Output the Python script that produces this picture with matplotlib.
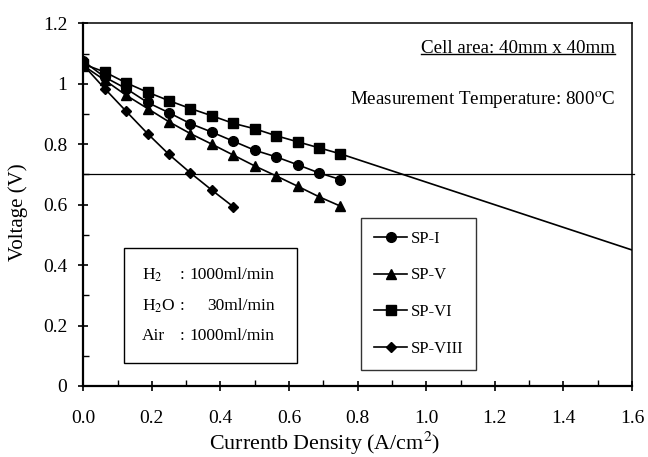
import matplotlib
matplotlib.use("Agg")
import matplotlib.pyplot as plt
from matplotlib.ticker import MultipleLocator, FuncFormatter
from matplotlib.patches import Rectangle
from matplotlib.lines import Line2D

plt.rcParams['font.family'] = ['Liberation Serif', 'DejaVu Serif']
plt.rcParams['mathtext.fontset'] = 'stix'

# ---------------- DATOS ----------------
corriente = [0.0, 0.0625, 0.125, 0.1875, 0.25, 0.3125, 0.375, 0.4375,
             0.5, 0.5625, 0.625, 0.6875, 0.75]
sp_i = [1.075, 1.022, 0.984, 0.938, 0.904, 0.868, 0.840, 0.810,
        0.780, 0.758, 0.732, 0.705, 0.683]
sp_v = [1.060, 1.012, 0.962, 0.918, 0.874, 0.835, 0.800, 0.764,
        0.728, 0.695, 0.661, 0.626, 0.595]
sp_vi = [1.065, 1.039, 1.003, 0.972, 0.944, 0.918, 0.894, 0.869,
         0.851, 0.828, 0.808, 0.788, 0.768]
sp_viii = [1.062, 0.984, 0.909, 0.835, 0.766, 0.705, 0.648, 0.593]
corriente_viii = corriente[:len(sp_viii)]

tendencia_x = [0.75, 1.6]
tendencia_y = [0.768, 0.45]
voltaje_ref = 0.7

series = [
    ("SP-I", corriente, sp_i, 'o', 7),
    ("SP-V", corriente, sp_v, '^', 7.5),
    ("SP-VI", corriente, sp_vi, 's', 6.5),
    ("SP-VIII", corriente_viii, sp_viii, 'D', 5.5),
]

# ---------------- FIGURA ----------------
fig = plt.figure(figsize=(6.48, 4.57), dpi=100)
ax = fig.add_axes([0.1285, 0.1554, 0.8468, 0.7936])

handles = []
for nombre, x, y, m, ms in series:
    h, = ax.plot(x, y, color='black', linewidth=1.2, marker=m, markersize=ms,
                 label=nombre, zorder=3)
    handles.append(h)

ax.plot(tendencia_x, tendencia_y, color='black', linewidth=1.2, zorder=2)
ax.axhline(voltaje_ref, xmin=0, xmax=1.004, color='black', linewidth=0.9,
           clip_on=False, zorder=2)

ax.set_xlim(0, 1.6)
ax.set_ylim(0, 1.2)

# ---------------- EJES / TICKS ----------------
ax.xaxis.set_major_locator(MultipleLocator(0.2))
ax.xaxis.set_minor_locator(MultipleLocator(0.1))
ax.yaxis.set_major_locator(MultipleLocator(0.2))
ax.yaxis.set_minor_locator(MultipleLocator(0.1))
ax.xaxis.set_major_formatter(FuncFormatter(lambda v, p: f"{v:.1f}"))
ax.yaxis.set_major_formatter(FuncFormatter(lambda v, p: f"{round(v, 1):g}"))

ax.tick_params(which='major', direction='inout', length=7, width=1.2,
               labelsize=14)
ax.tick_params(axis='x', which='major', pad=14)
ax.tick_params(axis='y', which='major', pad=8)
ax.tick_params(which='minor', direction='in', length=4, width=1.0)

for s in ['left', 'bottom']:
    ax.spines[s].set_linewidth(1.6)
for s in ['top', 'right']:
    ax.spines[s].set_linewidth(1.1)

ax.set_xlabel(r"Currentb Density (A/cm$^2$)", fontsize=15.8)
ax.xaxis.label.set_va('baseline')
ax.xaxis.set_label_coords(0.44, -0.177)
ax.set_ylabel("Voltage (V)", fontsize=15)
ax.yaxis.label.set_va('center')
ax.yaxis.set_label_coords(-0.119, 0.48)

# ---------------- LEYENDA ----------------
leg = ax.legend(handles=handles, loc='upper left',
                bbox_to_anchor=(0.507, 0.463), fontsize=12,
                frameon=True, fancybox=False, edgecolor='black',
                labelspacing=1.25, handlelength=2.0, handletextpad=0.2,
                borderpad=0.75, borderaxespad=0)
leg.get_frame().set_linewidth(1.0)

# ---------------- CAJA DE FLUJOS ----------------
ax.add_patch(Rectangle((0.119, 0.076), 0.503, 0.380, fill=False,
                       edgecolor='black', linewidth=1.0, zorder=4))
filas = [(r"H$_2$", ":", "1000ml/min", 0.367),
         (r"H$_2$O", ":", "30ml/min", 0.265),
         ("Air", ":", "1000ml/min", 0.165)]
for etiqueta, dos_puntos, valor, yy in filas:
    ax.text(0.171, yy, etiqueta, fontsize=12.5, ha='left', va='center')
    ax.text(0.288, yy, dos_puntos, fontsize=12.5, ha='center', va='center')
    ax.text(0.558, yy, valor, fontsize=12.5, ha='right', va='center')

# ---------------- TEXTOS ----------------
t_area = ax.text(1.551, 1.117, "Cell area: 40mm x 40mm", fontsize=13.7,
                 ha='right', va='center')
ax.text(1.551, 0.945, r"Measurement Temperature: 800$^{\mathrm{o}}$C",
        fontsize=13.7, ha='right', va='center')

# subrayado del texto del área
fig.canvas.draw()
bb = t_area.get_window_extent().transformed(ax.transData.inverted())
ax.add_line(Line2D([bb.x0, bb.x1], [bb.y0 + 0.008, bb.y0 + 0.008],
                   color='black', linewidth=1.0))

fig.savefig("out.png", dpi=100)
